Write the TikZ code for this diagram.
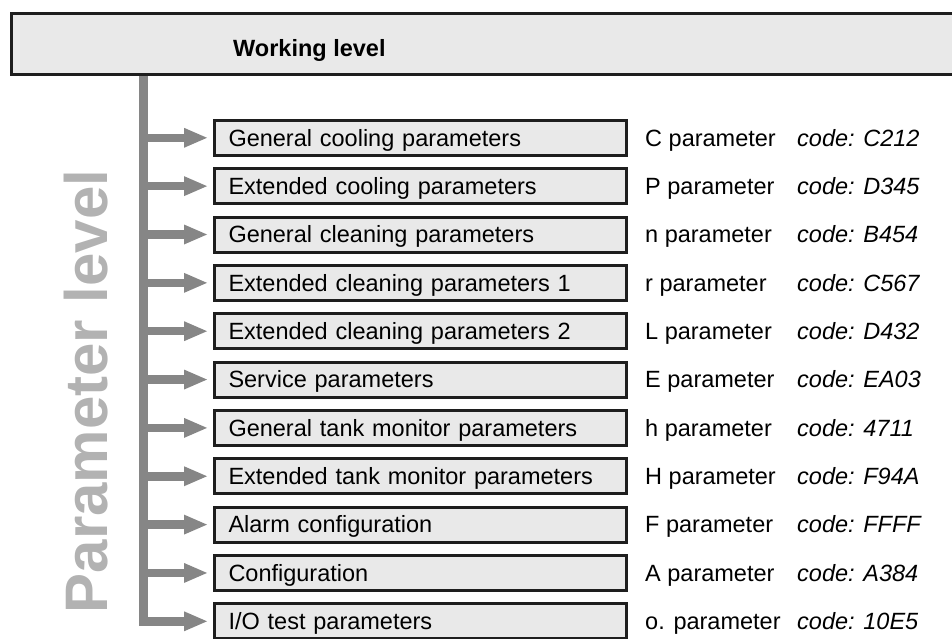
\documentclass[tikz,border=0pt]{standalone}
\usepackage{fontspec}
\setmainfont{Liberation Sans}
\usetikzlibrary{arrows.meta}
\definecolor{boxfill}{RGB}{233,233,233}
\definecolor{boxline}{RGB}{30,30,30}
\definecolor{bargray}{RGB}{134,134,134}
\definecolor{lvlgray}{RGB}{178,178,178}
\tikzset{
  parbox/.style={draw=boxline, line width=3pt, fill=boxfill, rectangle,
    minimum width=412pt, minimum height=35pt, inner xsep=14pt, inner ysep=0pt,
    outer sep=0pt, text width=384pt, align=left, text height=16.6pt, text depth=0pt,
    anchor=west, font=\fontsize{23.5}{28}\selectfont},
  topbox/.style={draw=boxline, line width=3pt, fill=boxfill, rectangle,
    minimum width=960pt, minimum height=61pt, outer sep=0pt, anchor=north west},
  ptext/.style={anchor=base west, inner sep=0pt, font=\fontsize{23.5}{28}\selectfont},
  ctext/.style={anchor=base west, inner sep=0pt, font=\fontsize{23.5}{28}\selectfont\itshape},
  conn/.style={draw=bargray, line width=8.5pt,
    -{Triangle[length=23pt,width=20pt,line width=0pt]}, shorten >=7.5pt},
  bar/.style={draw=bargray, line width=9pt}
}
\newcommand\prow[4]{%
  \pgfmathsetmacro\yy{137.8+48.35*(#1-1)}%
  \node[parbox] (box#1) at (214.5,\yy) {#2};
  \coordinate (b#1) at (143,\yy);
  \draw[conn] (b#1) -- (box#1.west);
  \node[ptext] (par#1) at (645,\yy+8.3) {#3};
  \node[ctext] (code#1) at (797,\yy+8.3) {code: #4};
}
\begin{document}
\begin{tikzpicture}[x=1pt,y=-1pt]
\useasboundingbox (0,0) rectangle (952,639);
\clip (0,0) rectangle (952,639);
\coordinate (bartop) at (143,74.5);
\coordinate (barend) at (143,625.6);
\draw[bar] (bartop) -- (barend);
\node[topbox] (work) at (11.5,13.5) {};
\node[anchor=base west, inner sep=0pt, font=\fontsize{23.5}{28}\selectfont\bfseries] (worklabel) at (233,57) {Working level};
\node[rotate=90, anchor=base, inner sep=0pt, text=lvlgray, font=\fontsize{60}{60}\selectfont\bfseries] (plevel) at (107,391.5) {Parameter level};
\prow{1}{General cooling parameters}{C parameter}{C212}
\prow{2}{Extended cooling parameters}{P parameter}{D345}
\prow{3}{General cleaning parameters}{n parameter}{B454}
\prow{4}{Extended cleaning parameters 1}{r parameter}{C567}
\prow{5}{Extended cleaning parameters 2}{L parameter}{D432}
\prow{6}{Service parameters}{E parameter}{EA03}
\prow{7}{General tank monitor parameters}{h parameter}{4711}
\prow{8}{Extended tank monitor parameters}{H parameter}{F94A}
\prow{9}{Alarm configuration}{F parameter}{FFFF}
\prow{10}{Configuration}{A parameter}{A384}
\prow{11}{I/O test parameters}{o. parameter}{10E5}
\end{tikzpicture}
\end{document}
